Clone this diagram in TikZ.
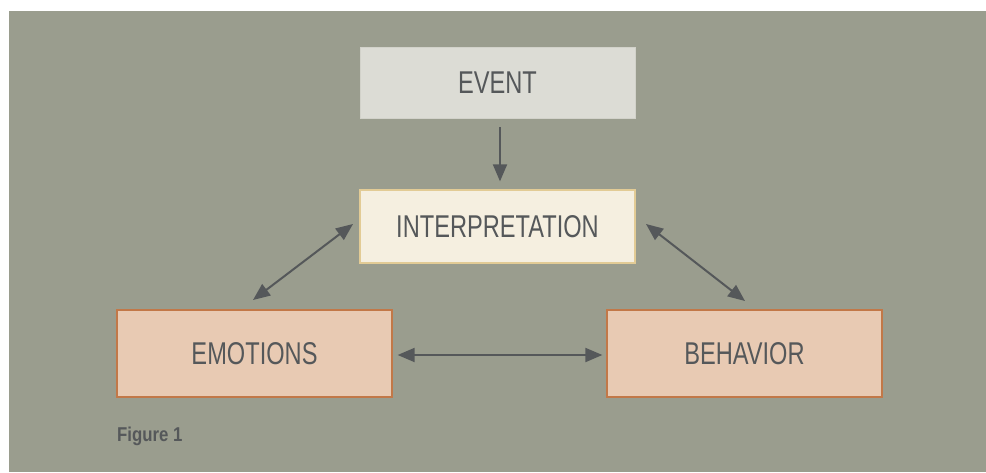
\documentclass[tikz,border=0pt]{standalone}
\usepackage{fontspec}
\setmainfont{Liberation Sans}[FakeStretch=0.75]
\newfontfamily\figfont{Liberation Sans}[FakeStretch=0.84]
\usetikzlibrary{arrows.meta,calc}
\definecolor{bggrey}{HTML}{9A9D8E}
\definecolor{txtgrey}{HTML}{55585A}
\definecolor{evfill}{HTML}{DCDCD5}
\definecolor{evline}{HTML}{D2D2CA}
\definecolor{infill}{HTML}{F5EFE0}
\definecolor{inline}{HTML}{E2CB95}
\definecolor{emfill}{HTML}{E8CAB3}
\definecolor{emline}{HTML}{C27848}
\tikzset{
  box/.style={rectangle, inner sep=0pt, line width=1.3pt, text=txtgrey,
    font=\fontsize{31.5}{33}\selectfont, minimum width=275pt},
  evbox/.style={box, fill=evfill, draw=evline, line width=0.8pt, minimum height=71pt},
  inbox/.style={box, fill=infill, draw=inline, minimum height=73pt},
  embox/.style={box, fill=emfill, draw=emline, minimum height=87pt},
  arr/.style={draw=txtgrey, line width=2pt, -{Triangle[length=17pt,width=14pt]}},
  darr/.style={draw=txtgrey, line width=2pt, {Triangle[length=17pt,width=14pt]}-{Triangle[length=17pt,width=14pt]}}
}
\begin{document}
\begin{tikzpicture}[x=1pt,y=-1pt]
\useasboundingbox (0,0) rectangle (986,472);
\fill[white] (0,0) rectangle (986,472);
\fill[bggrey] (9,11) rectangle (986,472);
\node[evbox] (ev) at (497.5,82.5) {EVENT};
\node[inbox] (int) at (497.5,226.5) {INTERPRETATION};
\node[embox] (emo) at (254.5,353.5) {EMOTIONS};
\node[embox] (beh) at (744.5,353.5) {BEHAVIOR};
\node[anchor=base west, inner sep=0pt, text=txtgrey, font=\figfont\bfseries\fontsize{20}{21}\selectfont] (fig) at (117,441) {Figure 1};
\coordinate (l1) at (253,300);
\coordinate (l2) at (353,224);
\coordinate (r1) at (646,224);
\coordinate (r2) at (745,301);
\draw[arr, shorten <=9pt, shorten >=8pt] ([xshift=2.5pt]ev.south) -- ([xshift=2.5pt]int.north);
\draw[darr] (l1) -- (l2);
\draw[darr] (r1) -- (r2);
\draw[darr, shorten <=5pt, shorten >=4pt] ([yshift=-1.5pt]emo.east) -- ([yshift=-1.5pt]beh.west);
\end{tikzpicture}
\end{document}
